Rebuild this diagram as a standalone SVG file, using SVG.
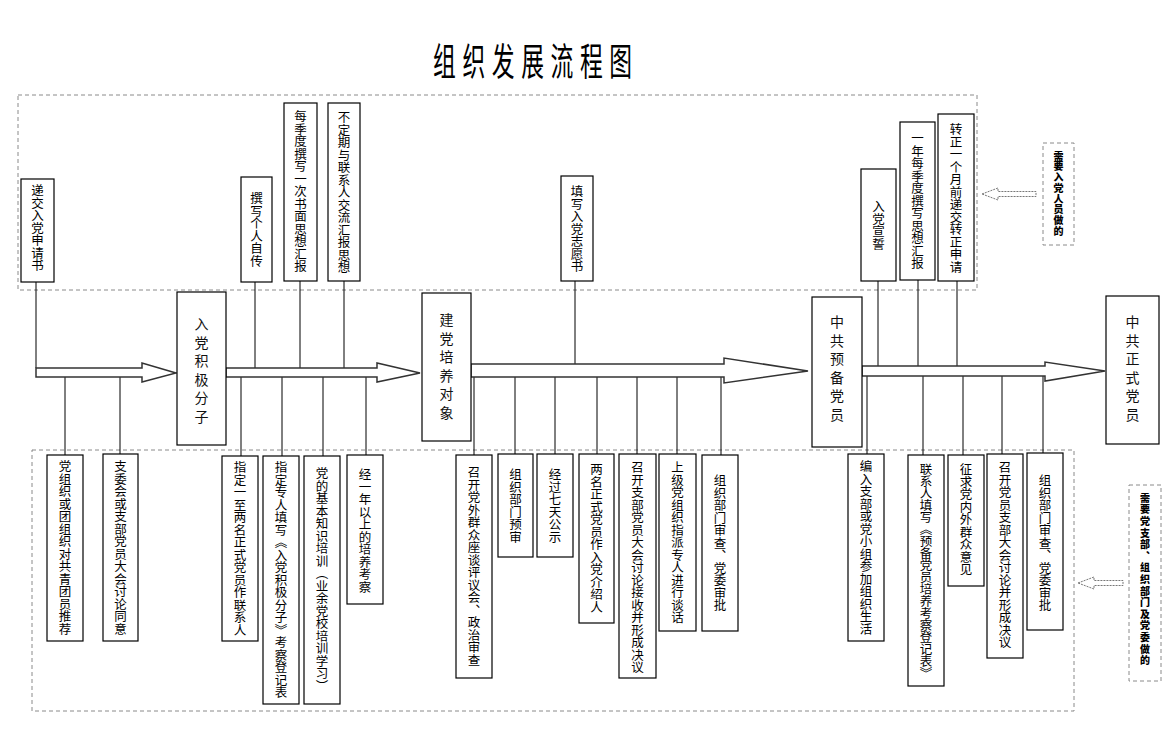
<svg xmlns="http://www.w3.org/2000/svg" width="1172" height="731" viewBox="0 0 1172 731">
<style>
.bg{fill:#fff}
.box{fill:#fff;stroke:#000;stroke-width:1.2}
.dash{fill:none;stroke:#8a8a8a;stroke-width:1;stroke-dasharray:4 3}
.lbl{font-family:"Noto Sans CJK SC","Noto Sans CJK JP",sans-serif;font-size:12.5px;writing-mode:vertical-rl;fill:#000}
.big{font-family:"Noto Sans CJK SC","Noto Sans CJK JP",sans-serif;font-size:14px;letter-spacing:4.5px;writing-mode:vertical-rl;fill:#111}
.note{font-family:"Noto Sans CJK SC","Noto Sans CJK JP",sans-serif;font-size:10px;font-weight:900;writing-mode:vertical-rl;fill:#000}
.conn line{stroke:#000;stroke-width:1}
.arrow{fill:#fff;stroke:#333;stroke-width:1.5;stroke-linejoin:miter}
.hollow{fill:#fff;stroke:#777;stroke-width:1;stroke-dasharray:2 1}
.title{font-family:"Noto Sans CJK SC","Noto Sans CJK JP",sans-serif;font-size:38px;font-weight:400;fill:#000}
</style>
<rect class="bg" x="0" y="0" width="1172" height="731"/>

<text class="title" transform="translate(433,75) scale(0.6,1)" x="0" y="0" letter-spacing="11">组织发展流程图</text>

<g id="regions">
<rect class="dash" x="18" y="95" width="959" height="195"/>
<rect class="dash" x="32" y="450" width="1042" height="261"/>
</g>

<g class="conn" id="connectors">
<line x1="36" y1="282" x2="36" y2="368"/>
<line x1="255" y1="282" x2="255" y2="368"/>
<line x1="300" y1="281" x2="300" y2="368"/>
<line x1="344" y1="281" x2="344" y2="368"/>
<line x1="575" y1="281" x2="575" y2="364"/>
<line x1="878" y1="281" x2="878" y2="366"/>
<line x1="918" y1="280" x2="918" y2="366"/>
<line x1="957" y1="281" x2="957" y2="366"/>
<line x1="65" y1="377" x2="65" y2="455"/>
<line x1="120" y1="377" x2="120" y2="454"/>
<line x1="241" y1="377" x2="241" y2="456"/>
<line x1="282" y1="377" x2="282" y2="456"/>
<line x1="323" y1="377" x2="323" y2="456"/>
<line x1="366" y1="377" x2="366" y2="455"/>
<line x1="474" y1="377" x2="474" y2="455"/>
<line x1="515" y1="377" x2="515" y2="454"/>
<line x1="555" y1="377" x2="555" y2="454"/>
<line x1="597" y1="377" x2="597" y2="454"/>
<line x1="637" y1="377" x2="637" y2="454"/>
<line x1="677" y1="377" x2="677" y2="454"/>
<line x1="721" y1="377" x2="721" y2="455"/>
<line x1="867" y1="376" x2="867" y2="454"/>
<line x1="923" y1="376" x2="923" y2="455"/>
<line x1="963" y1="376" x2="963" y2="455"/>
<line x1="1002" y1="376" x2="1002" y2="454"/>
<line x1="1043" y1="376" x2="1043" y2="453"/>
<polygon class="arrow" points="36,368 142,368 142,363 176,373 142,382 142,377 36,377"/>
<polygon class="arrow" points="226,368 377,368 377,363 420,373 377,382 377,377 226,377"/>
<polygon class="arrow" points="471,364 724,364 724,358 808,371 724,383 724,377 471,377"/>
<polygon class="arrow" points="862,366 1045,366 1045,362 1105,371 1045,381 1045,376 862,376"/>
<polygon class="hollow" points="982,194 998,188 998,191.5 1036,191.5 1036,196.5 998,196.5 998,200"/>
<polygon class="hollow" points="1078,583 1094,577 1094,580.5 1123,580.5 1123,585.5 1094,585.5 1094,589"/>
</g>

<g id="n-jjfz"><rect class="box" x="177" y="292" width="49" height="153"/><text class="big" x="201.5" y="317">入党积极分子</text></g>
<g id="n-pydx"><rect class="box" x="422" y="293" width="49" height="148"/><text class="big" x="446.5" y="313">建党培养对象</text></g>
<g id="n-ybdy"><rect class="box" x="812" y="297" width="50" height="150"/><text class="big" x="837" y="315">中共预备党员</text></g>
<g id="n-zsdy"><rect class="box" x="1106" y="296" width="53" height="148"/><text class="big" x="1132.5" y="315">中共正式党员</text></g>

<g id="t1"><rect class="box" x="21" y="179" width="33" height="103"/><text class="lbl" x="37.5" y="184">递交入党申请书</text></g>
<g id="t2"><rect class="box" x="241" y="177" width="31" height="105"/><text class="lbl" x="256.5" y="192">撰写个人自传</text></g>
<g id="t3"><rect class="box" x="284" y="103" width="33" height="178"/><text class="lbl" x="300.5" y="110">每季度撰写一次书面思想汇报</text></g>
<g id="t4"><rect class="box" x="328" y="103" width="32" height="178"/><text class="lbl" x="344" y="111">不定期与联系人交流汇报思想</text></g>
<g id="t5"><rect class="box" x="561" y="176" width="32" height="105"/><text class="lbl" x="577" y="185">填写入党志愿书</text></g>
<g id="t6"><rect class="box" x="861" y="169" width="35" height="112"/><text class="lbl" x="878.5" y="200">入党宣誓</text></g>
<g id="t7"><rect class="box" x="900" y="122" width="35" height="158"/><text class="lbl" x="917.5" y="132">一年每季度撰写思想汇报</text></g>
<g id="t8"><rect class="box" x="938" y="114" width="36" height="167"/><text class="lbl" x="956" y="123">转正一个月前递交转正申请</text></g>

<g id="b1"><rect class="box" x="47" y="455" width="36" height="186"/><text class="lbl" x="65" y="460">党组织或团组织对共青团员推荐</text></g>
<g id="b2"><rect class="box" x="103" y="454" width="35" height="187"/><text class="lbl" x="120.5" y="460">支委会或支部党员大会讨论同意</text></g>
<g id="b3"><rect class="box" x="222" y="456" width="36" height="185"/><text class="lbl" x="240" y="461">指定一至两名正式党员作联系人</text></g>
<g id="b4"><rect class="box" x="263" y="456" width="36" height="248"/><text class="lbl" x="281" y="461">指定专人填写《入党积极分子》考察登记表</text></g>
<g id="b5"><rect class="box" x="304" y="456" width="36" height="248"/><text class="lbl" x="322" y="467">党的基本知识培训（业余党校培训学习）</text></g>
<g id="b6"><rect class="box" x="347" y="455" width="36" height="149"/><text class="lbl" x="365" y="468">经一年以上的培养考察</text></g>
<g id="b7"><rect class="box" x="456" y="455" width="36" height="223"/><text class="lbl" x="474" y="466">召开党外群众座谈评议会、政治审查</text></g>
<g id="b8"><rect class="box" x="498" y="454" width="35" height="103"/><text class="lbl" x="515.5" y="468">组织部门预审</text></g>
<g id="b9"><rect class="box" x="537" y="454" width="36" height="103"/><text class="lbl" x="555" y="468">经过七天公示</text></g>
<g id="b10"><rect class="box" x="579" y="454" width="35" height="169"/><text class="lbl" x="596.5" y="463">两名正式党员作入党介绍人</text></g>
<g id="b11"><rect class="box" x="619" y="454" width="37" height="224"/><text class="lbl" x="637.5" y="461">召开支部党员大会讨论接收并形成决议</text></g>
<g id="b12"><rect class="box" x="659" y="454" width="37" height="177"/><text class="lbl" x="677.5" y="461">上级党组织指派专人进行谈话</text></g>
<g id="b13"><rect class="box" x="702" y="455" width="36" height="176"/><text class="lbl" x="720" y="474">组织部门审查、党委审批</text></g>
<g id="b14"><rect class="box" x="848" y="454" width="36" height="187"/><text class="lbl" x="866" y="460">编入支部或党小组参加组织生活</text></g>
<g id="b15"><rect class="box" x="908" y="455" width="36" height="231"/><text class="lbl" x="926" y="463" letter-spacing="-0.5">联系人填写《预备党员培养考察登记表》</text></g>
<g id="b16"><rect class="box" x="948" y="455" width="36" height="131"/><text class="lbl" x="966" y="463">征求党内外群众意见</text></g>
<g id="b17"><rect class="box" x="987" y="454" width="36" height="204"/><text class="lbl" x="1005" y="461">召开党员支部大会讨论并形成决议</text></g>
<g id="b18"><rect class="box" x="1027" y="453" width="36" height="177"/><text class="lbl" x="1045" y="474">组织部门审查、党委审批</text></g>

<g id="note-top"><rect class="dash" x="1043" y="143" width="31" height="102"/><text class="note" x="1058.5" y="151" letter-spacing="0.7">需要入党人员做的</text></g>
<g id="note-bottom"><rect class="dash" x="1129" y="485" width="32" height="196"/><text class="note" x="1145" y="493" letter-spacing="1.6">需要党支部、组织部门及党委做的</text></g>
</svg>
